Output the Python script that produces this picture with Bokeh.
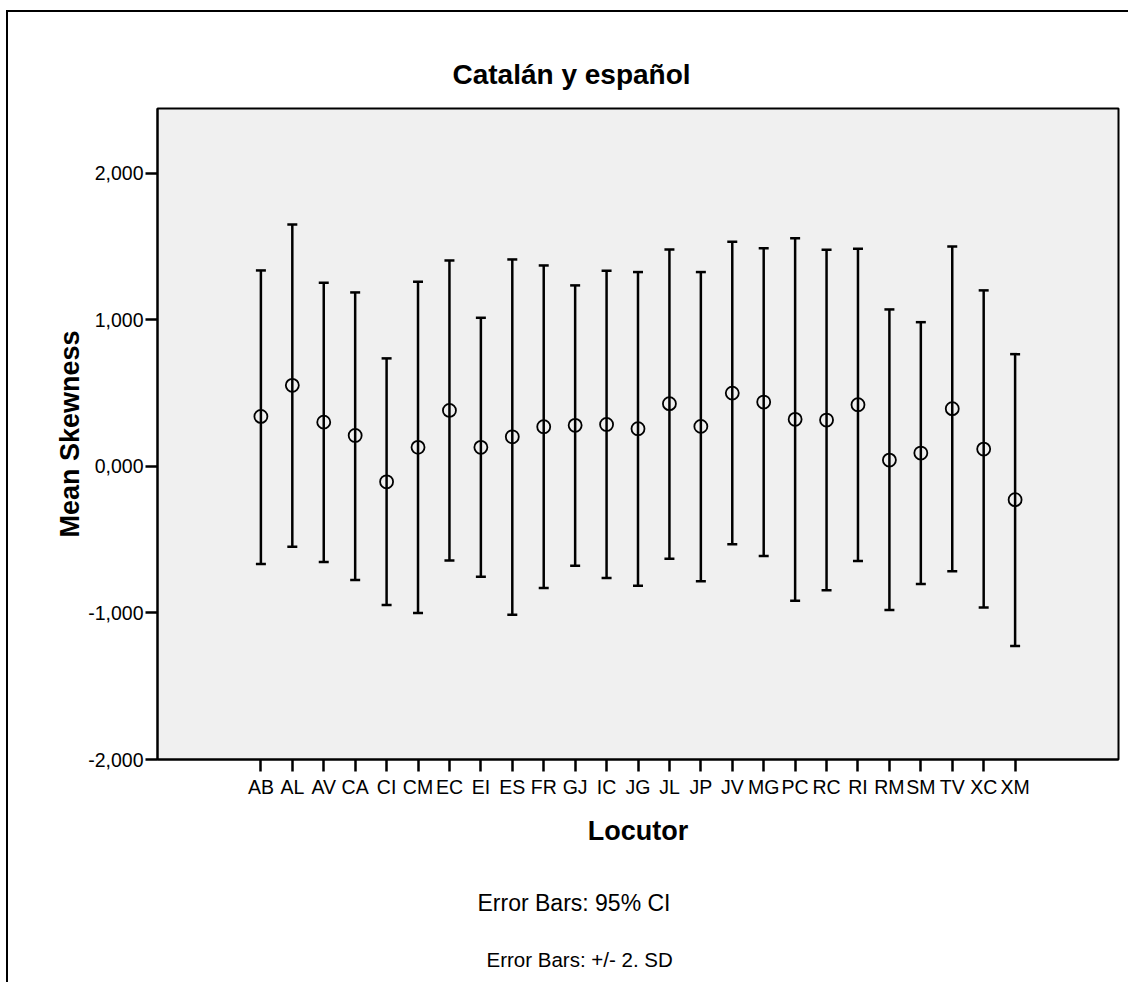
from bokeh.plotting import figure
from bokeh.models import (ColumnDataSource, FactorRange, Range1d, FixedTicker,
                          Whisker, TeeHead, Title)
from bokeh.embed import file_html
from bokeh.resources import INLINE

# ---- data ----
locutores = ["AB", "AL", "AV", "CA", "CI", "CM", "EC", "EI", "ES", "FR", "GJ", "IC", "JG",
             "JL", "JP", "JV", "MG", "PC", "RC", "RI", "RM", "SM", "TV", "XC", "XM"]
media = [0.341, 0.553, 0.302, 0.211, -0.105, 0.130, 0.382, 0.130, 0.202, 0.271, 0.280, 0.286, 0.257,
         0.428, 0.273, 0.500, 0.439, 0.321, 0.316, 0.421, 0.043, 0.091, 0.394, 0.118, -0.227]
superior = [1.337, 1.651, 1.253, 1.187, 0.737, 1.260, 1.405, 1.014, 1.412, 1.371, 1.235, 1.335, 1.326,
            1.480, 1.326, 1.533, 1.489, 1.557, 1.478, 1.485, 1.071, 0.984, 1.501, 1.201, 0.766]
inferior = [-0.666, -0.548, -0.653, -0.775, -0.946, -1.000, -0.643, -0.753, -1.012, -0.830, -0.678, -0.762, -0.814,
            -0.630, -0.784, -0.532, -0.612, -0.916, -0.846, -0.646, -0.980, -0.803, -0.716, -0.962, -1.226]
y_ticks = [-2, -1, 0, 1, 2]
y_tick_labels = ["-2,000", "-1,000", "0,000", "1,000", "2,000"]

titulo = "Catalán y español"
eje_x = "Locutor"
eje_y = "Mean Skewness"
nota1 = "Error Bars: 95% CI"
nota2 = "Error Bars: +/- 2. SD"

FONT = "Liberation Sans"

src = ColumnDataSource(dict(x=locutores, m=media, up=superior, lo=inferior))

p = figure(x_range=FactorRange(factors=locutores, range_padding=2.79, range_padding_units="absolute"),
           y_range=Range1d(-2.0, 2.442),
           width=1122, height=972,
           min_border_left=149, min_border_right=12, min_border_top=96, min_border_bottom=225,
           output_backend="svg", toolbar_location=None,
           background_fill_color="#F0F0F0", border_fill_color="white",
           styles={"border-left": "2px solid black", "border-top": "2px solid black",
                   "margin-top": "10px", "margin-left": "6px"})

p.outline_line_color = "black"
p.outline_line_width = 2
p.xgrid.visible = False
p.ygrid.visible = False

# title
p.title.text = titulo
p.title.align = "left"
p.title.offset = 295
p.title.standoff = 38
p.title.vertical_align = "bottom"
p.title.text_font = FONT
p.title.text_font_size = "28px"
p.title.text_font_style = "bold"
p.title.text_color = "black"

# error bars
wh = Whisker(base="x", upper="up", lower="lo", source=src,
             line_color="black", line_width=2.5,
             upper_head=TeeHead(size=10, line_color="black", line_width=2.5),
             lower_head=TeeHead(size=10, line_color="black", line_width=2.5))
p.add_layout(wh)

p.scatter("x", "m", source=src, marker="circle", size=13, fill_alpha=0,
          line_color="black", line_width=1.8)

# axes
for ax in (p.xaxis[0], p.yaxis[0]):
    ax.axis_line_color = "black"
    ax.axis_line_width = 2
    ax.major_tick_line_color = "black"
    ax.major_tick_line_width = 2.5
    ax.major_tick_out = 12
    ax.major_tick_in = 0
    ax.minor_tick_line_color = None
    ax.major_label_text_font = FONT
    ax.major_label_text_font_size = "19.5px"
    ax.major_label_text_color = "black"
    ax.axis_label_text_font = FONT
    ax.axis_label_text_font_style = "bold"
    ax.axis_label_text_font_size = "27px"
    ax.axis_label_text_color = "black"

p.xaxis.major_label_standoff = 4

p.yaxis.axis_label = eje_y
p.yaxis.ticker = FixedTicker(ticks=y_ticks)
p.yaxis.major_label_overrides = {t: s for t, s in zip(y_ticks, y_tick_labels)}
p.yaxis.major_label_standoff = 2
p.yaxis.axis_label_standoff = 0

# x-axis title and notes stacked below the axis
p.add_layout(Title(text=eje_x, align="center", vertical_align="top", standoff=30,
                   text_font=FONT, text_font_size="27px", text_font_style="bold",
                   text_color="black"), "below")
p.add_layout(Title(text=nota1, align="left", offset=320, vertical_align="bottom", standoff=50,
                   text_font=FONT, text_font_size="23px", text_font_style="normal",
                   text_color="black"), "below")
p.add_layout(Title(text=nota2, align="left", offset=329, vertical_align="top", standoff=14,
                   text_font=FONT, text_font_size="20.5px", text_font_style="normal",
                   text_color="black"), "below")

open("out.html", "w").write(file_html(p, INLINE))
